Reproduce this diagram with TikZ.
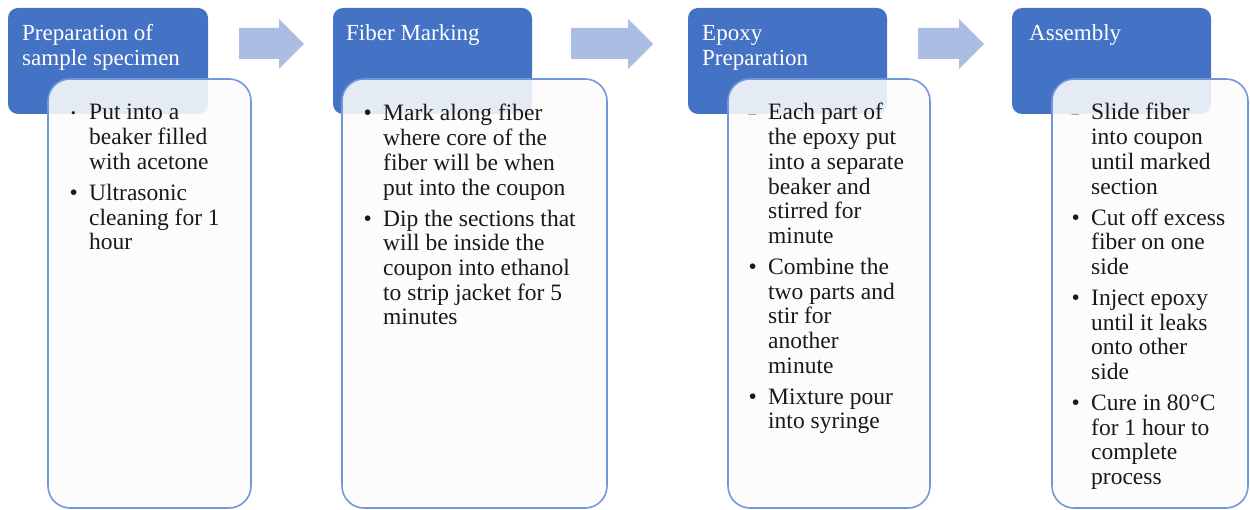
\documentclass[tikz,border=0pt]{standalone}
\usepackage{fontspec}
\setmainfont{Liberation Serif}
\definecolor{stepblue}{HTML}{4472C4}
\definecolor{flowarrow}{HTML}{ABBDE2}
\definecolor{cardedge}{HTML}{7398DA}
\definecolor{cardfill}{HTML}{FCFCFC}
\definecolor{dashgray}{HTML}{8C8C8C}
% list markers
\newcommand{\bul}{\makebox[19.5pt][l]{•}}
\newcommand{\smallbul}{\makebox[19.5pt][l]{\hspace{1.5pt}\raisebox{2pt}{\fontsize{13}{13}\selectfont •}}}
\newcommand{\graydash}{\makebox[19.5pt][l]{\raisebox{1pt}{\color{dashgray}\fontsize{15}{15}\selectfont –}}}
\newcommand{\gap}{\\[6.3pt]}
\begin{document}
\begin{tikzpicture}[x=1pt,y=-1pt,
  stepbox/.style={fill=stepblue, rounded corners=10pt, anchor=north west,
    minimum width=200pt, minimum height=106pt, inner sep=0pt, outer sep=0pt},
  card/.style={draw=cardedge, line width=1.6pt, fill=cardfill, fill opacity=0.88,
    rounded corners=22pt, anchor=north west, inner sep=0pt, outer sep=0pt},
  steptitle/.style={text=white, font=\fontsize{23}{25}\selectfont, inner sep=0pt, anchor=base west},
  cardtext/.style={text=black!90, font=\fontsize{23.5}{24.7}\selectfont, inner sep=0pt, anchor=base west},
  flow/.style={fill=flowarrow}]
\useasboundingbox (0,0) rectangle (1250,510);

% step headers
\node[stepbox] (s1) at (8,8) {};
\node[stepbox, minimum width=199pt] (s2) at (333,8) {};
\node[stepbox, minimum width=199pt] (s3) at (688,8) {};
\node[stepbox, minimum width=199pt] (s4) at (1012,8) {};

\node[steptitle] (t1) at (22,41) {\begin{tabular}[t]{@{}l@{}}Preparation of\\sample specimen\end{tabular}};
\node[steptitle] (t2) at (346,41) {Fiber Marking};
\node[steptitle] (t3) at (702,41) {\begin{tabular}[t]{@{}l@{}}Epoxy\\Preparation\end{tabular}};
\node[steptitle] (t4) at (1029,41) {Assembly};

% flow arrows between the headers
\fill[flow] (239,28) -- (279,28) -- (279,19) -- (304,44) -- (279,69) -- (279,59) -- (239,59) -- cycle;
\fill[flow] (571,28) -- (628,28) -- (628,19) -- (653,44) -- (628,69) -- (628,59) -- (571,59) -- cycle;
\fill[flow] (918,28) -- (959,28) -- (959,19) -- (984,44) -- (959,69) -- (959,59) -- (918,59) -- cycle;

% detail cards
\node[card, minimum width=203pt, minimum height=429pt] (c1) at (48,79) {};
\node[card, minimum width=265pt, minimum height=429pt] (c2) at (342,79) {};
\node[card, minimum width=202pt, minimum height=429pt] (c3) at (728,79) {};
\node[card, minimum width=196pt, minimum height=429pt] (c4) at (1052,79) {};

\node[cardtext] (b1) at (69.5,120) {\begin{tabular}[t]{@{}l@{}l@{}}
\smallbul & Put into a\\ & beaker filled\\ & with acetone\gap
\bul & Ultrasonic\\ & cleaning for 1\\ & hour
\end{tabular}};

\node[cardtext] (b2) at (363.5,121) {\begin{tabular}[t]{@{}l@{}l@{}}
\bul & Mark along fiber\\ & where core of the\\ & fiber will be when\\ & put into the coupon\gap
\bul & Dip the sections that\\ & will be inside the\\ & coupon into ethanol\\ & to strip jacket for 5\\ & minutes
\end{tabular}};

\node[cardtext] (b3) at (748.5,120) {\begin{tabular}[t]{@{}l@{}l@{}}
\graydash & Each part of\\ & the epoxy put\\ & into a separate\\ & beaker and\\ & stirred for\\ & minute\gap
\bul & Combine the\\ & two parts and\\ & stir for\\ & another\\ & minute\gap
\bul & Mixture pour\\ & into syringe
\end{tabular}};

\node[cardtext] (b4) at (1071.5,120) {\begin{tabular}[t]{@{}l@{}l@{}}
\graydash & Slide fiber\\ & into coupon\\ & until marked\\ & section\gap
\bul & Cut off excess\\ & fiber on one\\ & side\gap
\bul & Inject epoxy\\ & until it leaks\\ & onto other\\ & side\gap
\bul & Cure in 80°C\\ & for 1 hour to\\ & complete\\ & process
\end{tabular}};
\end{tikzpicture}
\end{document}
